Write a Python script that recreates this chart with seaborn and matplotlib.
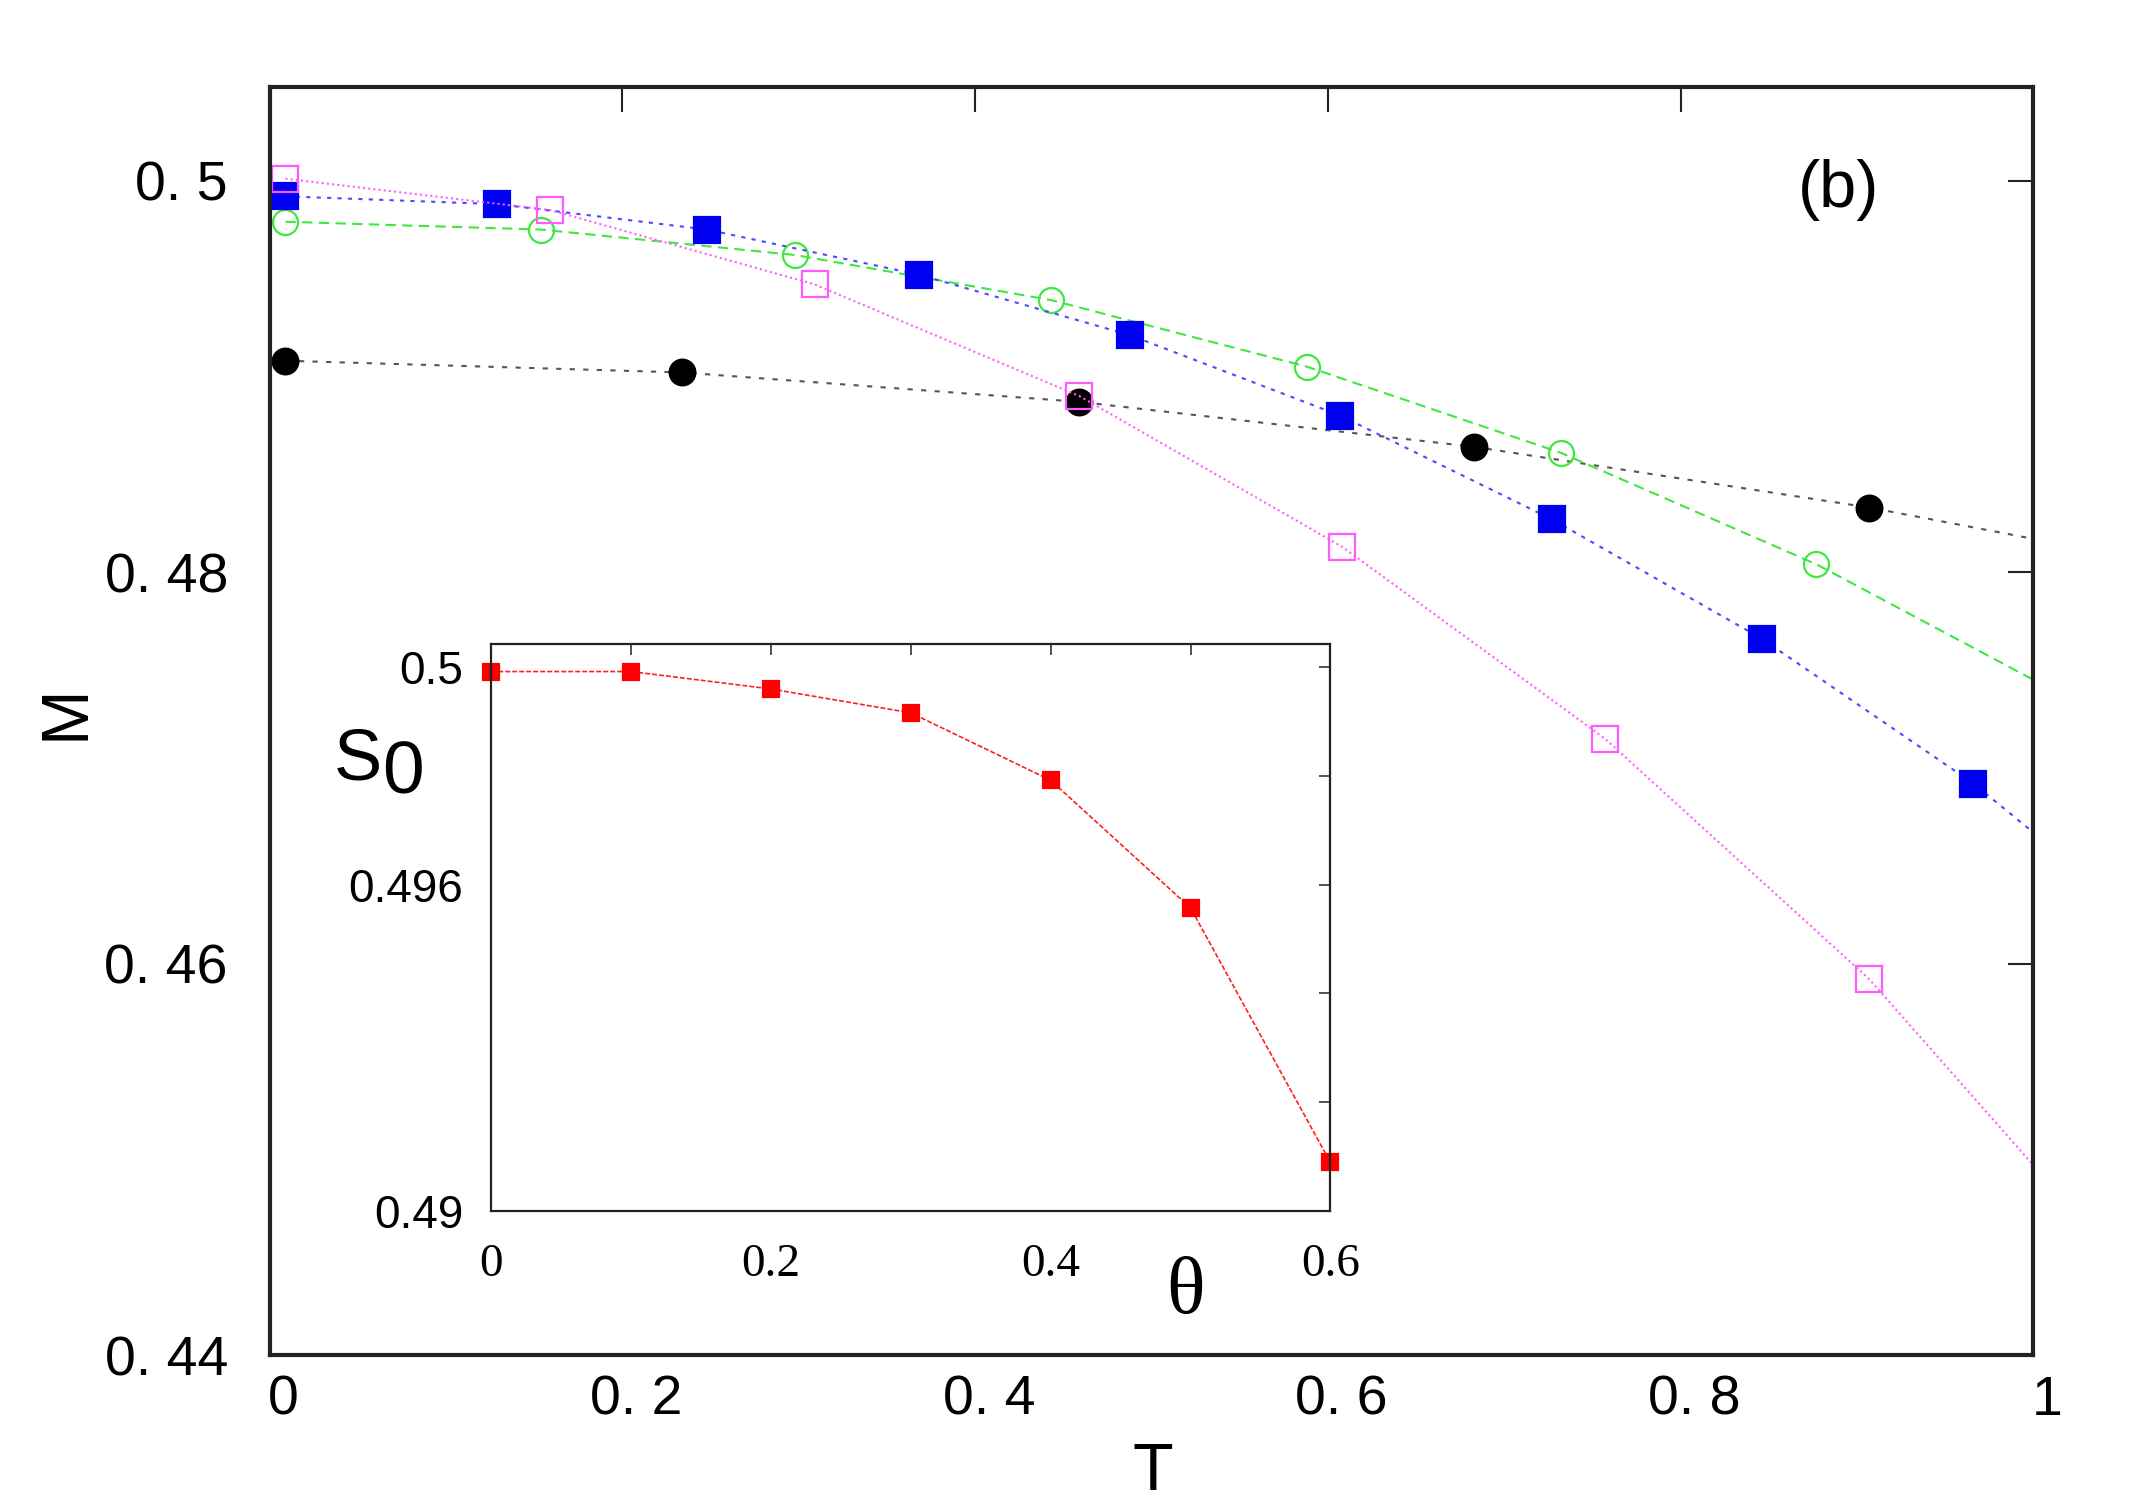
import matplotlib
matplotlib.use("Agg")
import matplotlib.pyplot as plt
import matplotlib.transforms as mtransforms
import seaborn as sns

# Main panel M(T). The last value of each list is where the line meets the
# right frame (no marker there).
t_black = [0.009, 0.234, 0.459, 0.683, 0.907, 1.0]
m_black = [0.4908, 0.4902, 0.4887, 0.4864, 0.4833, 0.4817]

t_green = [0.009, 0.154, 0.298, 0.443, 0.588, 0.732, 0.877, 1.0]
m_green = [0.4979, 0.4975, 0.4962, 0.4939, 0.4905, 0.4861, 0.4804, 0.4745]

t_blue = [0.009, 0.129, 0.248, 0.368, 0.488, 0.607, 0.727, 0.846, 0.966, 1.0]
m_blue = [0.4992, 0.4988, 0.4975, 0.4952, 0.4921, 0.4880, 0.4827, 0.4766, 0.4692, 0.4667]

t_magenta = [0.009, 0.159, 0.309, 0.459, 0.608, 0.757, 0.907, 1.0]
m_magenta = [0.5001, 0.4985, 0.4947, 0.4890, 0.4813, 0.4715, 0.4592, 0.4497]

# inset S0(theta)
theta = [0.0, 0.1, 0.2, 0.3, 0.4, 0.5, 0.6]
s0 = [0.49992, 0.49992, 0.4996, 0.49916, 0.49792, 0.49557, 0.49089]

main_xticks = [0, 0.2, 0.4, 0.6, 0.8, 1.0]
main_xlabels = ['0', '0. 2', '0. 4', '0. 6', '0. 8', '1']
main_yticks = [0.44, 0.46, 0.48, 0.5]
main_ylabels = ['0. 44', '0. 46', '0. 48', '0. 5']

inset_xticks = [0, 0.1, 0.2, 0.3, 0.4, 0.5, 0.6]
inset_xlabels = ['0', '', '0.2', '', '0.4', '', '0.6']
inset_yticks = [0.49, 0.492, 0.494, 0.496, 0.498, 0.5]
inset_ylabels = ['0.49', '', '', '0.496', '', '0.5']

sns.set_style('white')
plt.rcParams['font.family'] = ['Liberation Sans', 'DejaVu Sans']
plt.rcParams['text.color'] = 'black'
plt.rcParams['xtick.labelcolor'] = 'black'
plt.rcParams['ytick.labelcolor'] = 'black'

fig = plt.figure(figsize=(21.31, 15.05), dpi=100)
ax = fig.add_axes([0.1265, 0.0996, 0.8277, 0.8428])


def draw(axis, x, y, color, line_color, ls, marker, ms, filled, skip_last=True, lw=1.5):
    n = len(x) - 1 if skip_last else len(x)
    sns.lineplot(x=x, y=y, ax=axis, color=line_color, linestyle=ls, lw=lw,
                 marker=marker, markersize=ms, markevery=list(range(n)),
                 markerfacecolor=color if filled else 'none',
                 markeredgecolor=color, markeredgewidth=1.6, clip_on=False)


draw(ax, t_black, m_black, 'black', '#555555', (0, (2.5, 4)), 'o', 18.5, True)
draw(ax, t_green, m_green, '#3ee83e', '#3ee83e', (0, (5, 3)), 'o', 18, False)
draw(ax, t_blue, m_blue, '#0000f0', '#4a4aff', (0, (2, 3)), 's', 19, True)
draw(ax, t_magenta, m_magenta, '#ff5cff', '#ff5cff', (0, (1, 1.5)), 's', 19, False)

ax.set_xlim(0, 1)
ax.set_ylim(0.44, 0.5048)
ax.set_xticks(main_xticks, main_xlabels)
ax.set_yticks(main_yticks, main_ylabels)
ax.set_xlabel('')
ax.set_ylabel('')
ax.tick_params(direction='in', length=18, width=1.5, top=True, right=True,
               labelsize=40, color='#222222', labelcolor='black')
ax.tick_params(axis='y', pad=30)
ax.tick_params(axis='x', pad=14)
shift = mtransforms.ScaledTranslation(10 / 72, 0, fig.dpi_scale_trans)
for lab in ax.get_xticklabels():
    lab.set_transform(lab.get_transform() + shift)
for sp in ax.spines.values():
    sp.set_linewidth(3)
    sp.set_color('#222222')

fig.text(0.863, 0.874, '(b)', fontsize=48, ha='center', va='center')
fig.text(0.541, 0.021, 'T', fontsize=48, ha='center', va='center')
fig.text(0.031, 0.5265, 'M', fontsize=48, ha='center', va='center', rotation=90)

# inset
ins = fig.add_axes([0.2305, 0.1956, 0.3938, 0.3766])
ins.set_facecolor('white')
draw(ins, theta, s0, '#ff0000', '#ff2020', (0, (3, 1.2)), 's', 12, True,
     skip_last=False, lw=1.2)
ins.set_xlim(0, 0.6)
ins.set_ylim(0.49, 0.50043)
ins.set_xticks(inset_xticks, inset_xlabels)
ins.set_yticks(inset_yticks, inset_ylabels)
ins.set_xlabel('')
ins.set_ylabel('')
ins.tick_params(direction='in', length=8, width=1.2, top=True, right=True,
                color='#333333', labelcolor='black')
ins.tick_params(axis='x', pad=24, labelsize=34, labelfontfamily='Liberation Serif')
ins.tick_params(axis='y', pad=20, labelsize=33, labelfontfamily='Liberation Sans')
for sp in ins.spines.values():
    sp.set_linewidth(1.6)
    sp.set_color('#222222')

fig.text(0.5565, 0.1408, 'θ', fontsize=58, ha='center', va='center',
         family=['Liberation Serif', 'DejaVu Serif'])
fig.text(0.1679, 0.4945, 'S', fontsize=52, ha='center', va='center')
fig.text(0.1892, 0.4855, '0', fontsize=54, ha='center', va='center')

fig.savefig('out.png', dpi=100)
